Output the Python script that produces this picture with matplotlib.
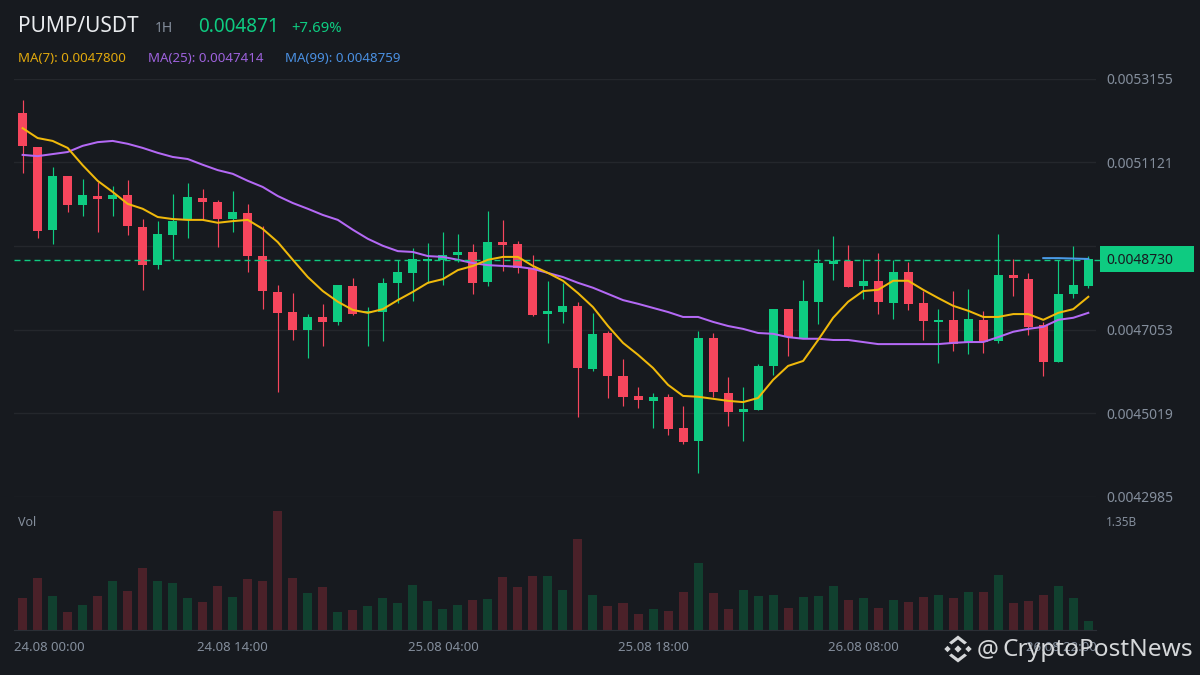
import numpy as np
import matplotlib
matplotlib.use("Agg")
import matplotlib.pyplot as plt
from matplotlib.patches import Polygon, Rectangle
from matplotlib.transforms import Affine2D

plt.rcParams['font.family'] = ['Noto Sans', 'DejaVu Sans']

# prices are in units of 1e-7 USDT
UNIT = 1e-7
open_ = [5232,5149,4948,5079,5009,5030,5023,5033,4955,4863,4936,4974,5025,5016,4975,4989,4884,4797,4749,4705,
         4736,4724,4811,4746,4749,4819,4843,4872,4875,4887,4894,4821,4918,4913,4855,4743,4749,4763,4610,4697,
         4593,4544,4532,4542,4466,4435,4685,4551,4505,4510,4617,4755,4685,4773,4865,4872,4811,4824,4770,4845,
         4770,4724,4729,4673,4729,4678,4838,4828,4717,4627,4792,4811]
close = [5152,4946,5079,5007,5033,5023,5033,4956,4863,4938,4969,5028,5016,4973,4991,4883,4798,4746,4705,4736,
         4724,4814,4743,4751,4819,4845,4877,4877,4887,4894,4819,4918,4911,4855,4741,4751,4763,4612,4695,4593,
         4542,4534,4542,4464,4432,4685,4554,4505,4512,4617,4755,4687,4775,4867,4872,4809,4824,4773,4845,4768,
         4726,4729,4670,4731,4675,4838,4831,4712,4627,4792,4814,4877]
high = [5264,5149,5101,5079,5071,5064,5054,5069,4974,4969,5035,5062,5047,5021,5042,5011,4957,4814,4795,4743,
        4768,4814,4831,4761,4831,4875,4904,4916,4943,4938,4913,4994,4972,4921,4887,4824,4819,4773,4746,4702,
        4634,4566,4551,4549,4520,4702,4697,4590,4566,4622,4755,4755,4826,4901,4933,4911,4877,4892,4875,4870,
        4799,4755,4799,4804,4751,4938,4877,4843,4724,4875,4909,4884]
low = [5087,4929,4914,4990,4982,4943,4982,4936,4802,4853,4878,4929,4972,4905,4943,4846,4756,4554,4680,4636,
       4666,4717,4741,4666,4678,4770,4775,4819,4814,4870,4792,4811,4848,4843,4738,4673,4721,4493,4605,4539,
       4520,4515,4466,4449,4427,4357,4542,4471,4435,4510,4595,4641,4685,4719,4826,4809,4780,4743,4731,4753,
       4680,4624,4653,4646,4648,4673,4787,4692,4593,4627,4782,4806]
ma7 = [5195,5171,5164,5147,5105,5067,5040,5011,4999,4979,4974,4972,4972,4965,4969,4972,4950,4918,4875,4833,
       4799,4773,4753,4746,4755,4777,4797,4819,4828,4850,4860,4875,4882,4882,4860,4843,4824,4794,4760,4714,
       4673,4644,4612,4571,4544,4542,4537,4532,4529,4539,4583,4617,4629,4680,4734,4773,4799,4802,4824,4824,
       4802,4782,4763,4751,4736,4736,4743,4743,4729,4746,4755,4785]
ma25 = [5130,5127,5132,5137,5152,5161,5164,5157,5147,5135,5125,5120,5106,5093,5084,5067,5052,5030,5013,4999,
        4984,4972,4948,4926,4909,4896,4894,4884,4882,4875,4867,4862,4860,4858,4853,4843,4833,4819,4807,4792,
        4777,4768,4758,4748,4736,4736,4724,4714,4707,4697,4695,4687,4683,4683,4680,4680,4675,4670,4670,4670,
        4670,4670,4673,4675,4675,4687,4700,4707,4712,4729,4734,4746]
ma99_index = [68, 69, 70, 71]
ma99 = [4879, 4879, 4878, 4877]
# volume in millions
volume = [390,639,415,216,303,415,601,477,763,601,576,390,340,539,402,626,601,1472,639,452,
          527,216,241,290,390,328,552,352,253,303,365,377,651,527,664,664,489,1124,427,290,
          328,191,253,228,464,825,452,253,489,415,427,265,402,415,539,365,390,265,365,340,
          402,427,390,464,464,676,328,352,427,539,390,104]
price_ticks = [5315.5, 5112.1, 4908.7, 4705.3, 4501.9, 4298.5]
price_labels = ['0.0053155', '0.0051121', '', '0.0047053', '0.0045019', '0.0042985']
time_tick_index = [0, 14, 28, 42, 56, 70]
time_labels = ['24.08 00:00', '24.08 14:00', '25.08 04:00', '25.08 18:00', '26.08 08:00', '26.08 22:00']
last_price = 4875
vol_tick = 1350
vol_tick_label = '1.35B'

BG = '#171a1f'
GRID = '#24272c'
UP = '#0ecb81'
DOWN = '#f6465d'
UP_DIM = '#11402f'
DOWN_DIM = '#4b2129'
GREY = '#848e9c'

W, H = 1200, 675
fig = plt.figure(figsize=(12, 6.75), dpi=100, facecolor=BG)

def box(x0, y0, x1, y1):
    return [x0 / W, 1 - y1 / H, (x1 - x0) / W, (y1 - y0) / H]

o, c, hi, lo = [np.array(a, float) * UNIT for a in (open_, close, high, low)]
idx = np.arange(len(o))
rising = c >= o
colors = np.where(rising, UP, DOWN)
xlim = ((14 - 22.6) / 15.01, (1096 - 22.6) / 15.01)

# price panel
ax = fig.add_axes(box(14, 78.6, 1096, 496.9), facecolor=BG)
ax.set_xlim(*xlim)
ax.set_ylim(price_ticks[-1] * UNIT, price_ticks[0] * UNIT)
ax.vlines(idx, lo, hi, colors=colors, linewidth=0.85, zorder=2)
ax.bar(idx, np.abs(c - o), bottom=np.minimum(o, c), width=0.6, color=colors, zorder=3)
ax.plot(idx, np.array(ma25) * UNIT, color='#b469f5', lw=1.45, zorder=4)
ax.plot(idx, np.array(ma7) * UNIT, color='#f0b90b', lw=1.45, zorder=5)
ax.plot(ma99_index, np.array(ma99) * UNIT, color='#4a9be8', lw=1.45, zorder=6)
ax.axhline(last_price * UNIT, xmin=0, xmax=1.0035, color=UP, lw=1.0, zorder=4.5, clip_on=False,
           linestyle=(0, (4.3, 2.9)))
ax.set_yticks(np.array(price_ticks) * UNIT)
ax.set_yticklabels(price_labels)
ax.yaxis.tick_right()
ax.tick_params(axis='y', length=0, pad=7.2, labelsize=10, labelcolor=GREY)
ax.set_xticks([])
ax.grid(axis='y', color=GRID, lw=1, zorder=0)
for s in ax.spines.values():
    s.set_visible(False)
ax.set_axisbelow(True)

# volume panel
vx = fig.add_axes(box(14, 511, 1096, 629.5), facecolor=BG)
vx.set_xlim(*xlim)
vx.set_ylim(0, 1474.4)
vx.bar(idx, volume, width=0.6, color=np.where(rising, UP_DIM, DOWN_DIM))
vx.set_yticks([vol_tick])
vx.set_yticklabels([vol_tick_label])
vx.yaxis.tick_right()
vx.tick_params(axis='y', length=0, pad=7.2, labelsize=8.5, labelcolor=GREY)
vx.set_xticks(time_tick_index)
vx.set_xticklabels(time_labels)
vx.tick_params(axis='x', length=0, pad=8.5, labelsize=9.5, labelcolor=GREY)
for s in ('top', 'left', 'right'):
    vx.spines[s].set_visible(False)
vx.spines['bottom'].set_color('#2b2f36')
lab = vx.get_xticklabels()
lab[0].set_transform(lab[0].get_transform() + Affine2D().translate(27, 0))
lab[-1].set_transform(lab[-1].get_transform() + Affine2D().translate(-12, 0))

# overlay in pixel coordinates: header, price tag, watermark
ov = fig.add_axes([0, 0, 1, 1], zorder=5)
ov.set_xlim(0, W)
ov.set_ylim(H, 0)
ov.axis('off')

def t(x, y, s, color, size, **kw):
    ov.text(x, y, s, color=color, fontsize=size, va='center', ha='left', **kw)

t(18, 27, 'PUMP/USDT', '#eaecef', 15)
t(155, 29, '1H', GREY, 10)
t(198, 27.5, '0.004871', '#0ecb81', 13.7)
t(291, 29, '+7.69%', '#0ecb81', 10.7)
t(18, 58, 'MA(7): 0.0047800', '#e0a80d', 9.6)
t(148, 58, 'MA(25): 0.0047414', '#9e62dd', 9.6)
t(285, 58, 'MA(99): 0.0048759', '#4a90e2', 9.6)
t(18, 523, 'Vol', GREY, 9)

ov.add_patch(Rectangle((1100, 246), 94, 26, color=UP, lw=0))
t(1106, 260, '0.0048730', '#181a20', 10)

# watermark
WM = '#d5d7d9'
def diamond(cx, cy, r):
    ov.add_patch(Polygon([(cx - r, cy), (cx, cy - r), (cx + r, cy), (cx, cy + r)], color=WM, lw=0))
cx, cy = 958, 649
diamond(cx, cy, 3.6)
diamond(cx - 10.5, cy, 3.2)
diamond(cx + 10.5, cy, 3.2)
for s in (-1, 1):
    ov.add_patch(Polygon([(cx - 9, cy + s * 6.5), (cx, cy + s * 13.5), (cx + 9, cy + s * 6.5),
                          (cx + 6.5, cy + s * 4.5), (cx, cy + s * 9.5), (cx - 6.5, cy + s * 4.5)],
                         color=WM, lw=0))
t(977, 650, '@', WM, 17.6)
t(1002, 650, 'CryptoPostNews', WM, 17.6)

fig.savefig('out.png', dpi=100, facecolor=BG)
